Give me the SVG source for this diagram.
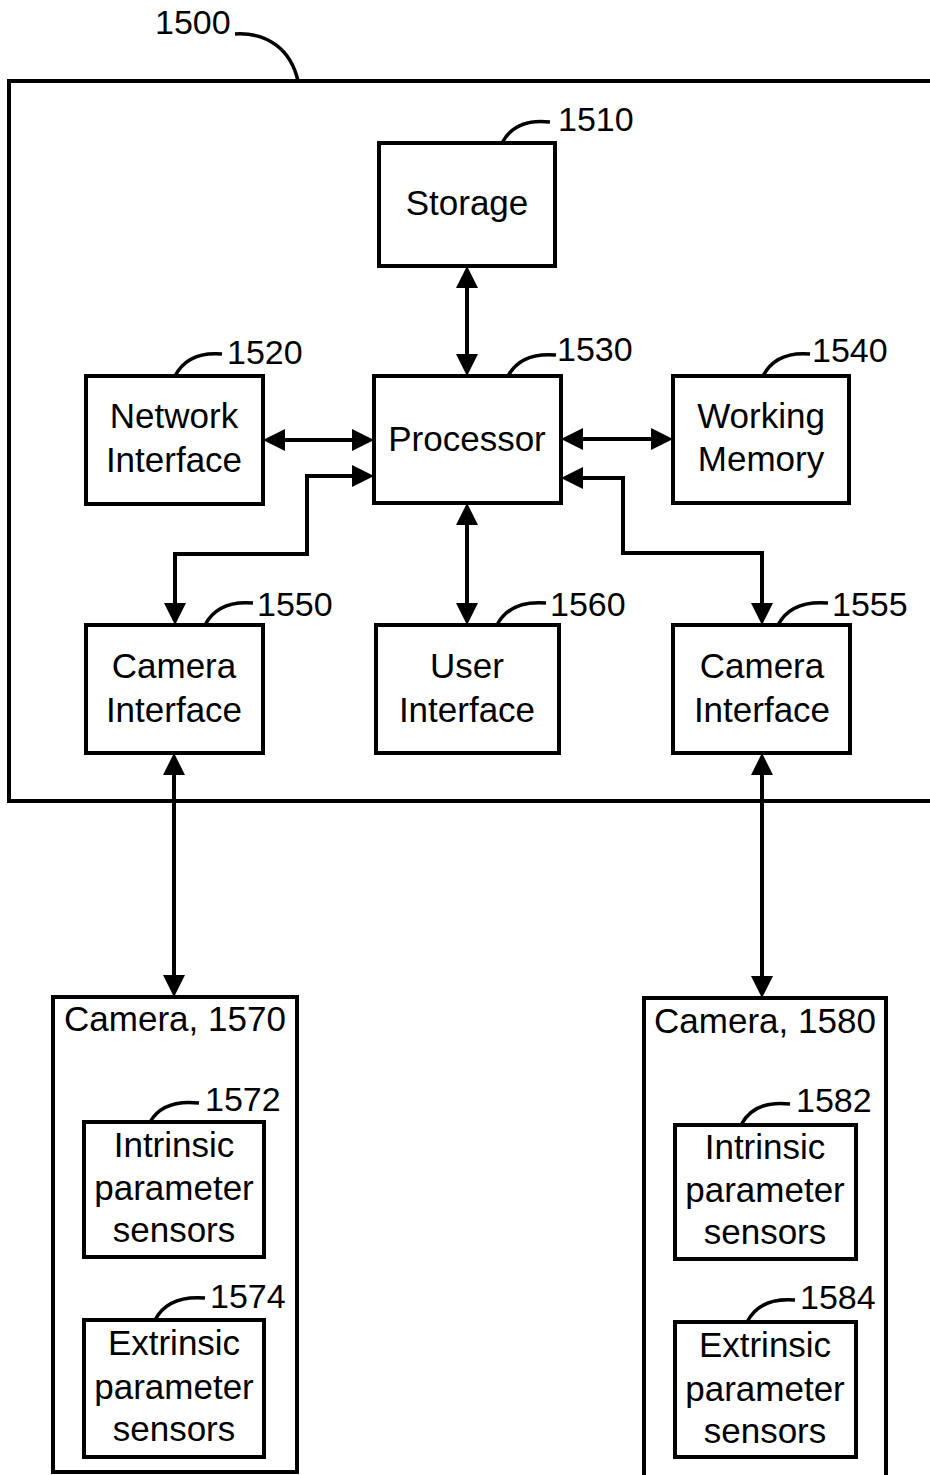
<svg xmlns="http://www.w3.org/2000/svg" width="930" height="1475" viewBox="0 0 930 1475">
<style>
.box{fill:#fff;stroke:#000;stroke-width:4}
.frame{fill:none;stroke:#000;stroke-width:4}
.lead{fill:none;stroke:#000;stroke-width:3.5}
.con{fill:none;stroke:#000;stroke-width:4}
text{font-family:"Liberation Sans",Arial,sans-serif;font-size:35px;fill:#000}
.c{text-anchor:middle}
.n{font-size:34px}
</style>
<defs>
<marker id="ah" viewBox="0 0 22 22" markerWidth="22" markerHeight="22" refX="18" refY="11" orient="auto-start-reverse" markerUnits="userSpaceOnUse">
<path d="M0,0 L22,11 L0,22 Z" fill="#000"/>
</marker>
</defs>
<rect fill="#fff" width="930" height="1475"/>

<g id="system-1500">
<rect class="frame" x="9" y="81" width="940" height="720"/>
<path class="lead" d="M235,34 C268,32 291,50 298,81"/>
<text class="n" x="155" y="34">1500</text>
</g>

<g id="storage-1510">
<rect class="box" x="379" y="143" width="176" height="123"/>
<text class="c" x="467" y="215">Storage</text>
<path class="lead" d="M502,143 Q515,118 550,122"/>
<text class="n" x="558" y="131">1510</text>
</g>

<g id="network-interface-1520">
<rect class="box" x="86" y="376" width="177" height="128"/>
<text class="c" x="174" y="428">Network</text>
<text class="c" x="174" y="472">Interface</text>
<path class="lead" d="M175,376 Q188,351 222,354"/>
<text class="n" x="227" y="364">1520</text>
</g>

<g id="processor-1530">
<rect class="box" x="374" y="376" width="187" height="127"/>
<text class="c" x="467" y="451">Processor</text>
<path class="lead" d="M508,376 Q521,352 556,355"/>
<text class="n" x="557" y="361">1530</text>
</g>

<g id="working-memory-1540">
<rect class="box" x="673" y="376" width="176" height="127"/>
<text class="c" x="761" y="428">Working</text>
<text class="c" x="761" y="471">Memory</text>
<path class="lead" d="M763,376 Q776,351 810,354"/>
<text class="n" x="812" y="362">1540</text>
</g>

<g id="camera-interface-1550">
<rect class="box" x="86" y="625" width="177" height="128"/>
<text class="c" x="174" y="678">Camera</text>
<text class="c" x="174" y="722">Interface</text>
<path class="lead" d="M205,625 Q218,600 253,603"/>
<text class="n" x="257" y="616">1550</text>
</g>

<g id="user-interface-1560">
<rect class="box" x="376" y="625" width="183" height="128"/>
<text class="c" x="467" y="678">User</text>
<text class="c" x="467" y="722">Interface</text>
<path class="lead" d="M497,625 Q510,600 546,603"/>
<text class="n" x="550" y="616">1560</text>
</g>

<g id="camera-interface-1555">
<rect class="box" x="673" y="625" width="177" height="128"/>
<text class="c" x="762" y="678">Camera</text>
<text class="c" x="762" y="722">Interface</text>
<path class="lead" d="M778,625 Q791,600 828,603"/>
<text class="n" x="832" y="616">1555</text>
</g>

<g id="camera-1570">
<rect class="box" x="53" y="997" width="244" height="475"/>
<text class="c" x="175" y="1031">Camera, 1570</text>
</g>

<g id="intrinsic-1572">
<rect class="box" x="84" y="1122" width="180" height="135"/>
<text class="c" x="174" y="1157">Intrinsic</text>
<text class="c" x="174" y="1200">parameter</text>
<text class="c" x="174" y="1242">sensors</text>
<path class="lead" d="M150,1122 Q163,1099 199,1103"/>
<text class="n" x="205" y="1111">1572</text>
</g>

<g id="extrinsic-1574">
<rect class="box" x="84" y="1320" width="180" height="137"/>
<text class="c" x="174" y="1355">Extrinsic</text>
<text class="c" x="174" y="1399">parameter</text>
<text class="c" x="174" y="1441">sensors</text>
<path class="lead" d="M155,1320 Q168,1295 205,1298"/>
<text class="n" x="210" y="1308">1574</text>
</g>

<g id="camera-1580">
<rect class="box" x="644" y="998" width="242" height="490"/>
<text class="c" x="765" y="1033">Camera, 1580</text>
</g>

<g id="intrinsic-1582">
<rect class="box" x="675" y="1125" width="181" height="134"/>
<text class="c" x="765" y="1159">Intrinsic</text>
<text class="c" x="765" y="1202">parameter</text>
<text class="c" x="765" y="1244">sensors</text>
<path class="lead" d="M741,1125 Q754,1100 790,1104"/>
<text class="n" x="796" y="1112">1582</text>
</g>

<g id="extrinsic-1584">
<rect class="box" x="675" y="1322" width="181" height="135"/>
<text class="c" x="765" y="1357">Extrinsic</text>
<text class="c" x="765" y="1401">parameter</text>
<text class="c" x="765" y="1443">sensors</text>
<path class="lead" d="M747,1322 Q760,1297 795,1300"/>
<text class="n" x="800" y="1309">1584</text>
</g>

<g id="connectors">
<path class="con" d="M467,270 L467,372" marker-start="url(#ah)" marker-end="url(#ah)"/>
<path class="con" d="M267,440 L370,440" marker-start="url(#ah)" marker-end="url(#ah)"/>
<path class="con" d="M565,439 L669,439" marker-start="url(#ah)" marker-end="url(#ah)"/>
<path class="con" d="M467,507 L467,621" marker-start="url(#ah)" marker-end="url(#ah)"/>
<path class="con" d="M370,476 L307,476 L307,554 L175,554 L175,621" marker-start="url(#ah)" marker-end="url(#ah)"/>
<path class="con" d="M565,478 L623,478 L623,553 L762,553 L762,621" marker-start="url(#ah)" marker-end="url(#ah)"/>
<path class="con" d="M174,757 L174,993" marker-start="url(#ah)" marker-end="url(#ah)"/>
<path class="con" d="M762,757 L762,994" marker-start="url(#ah)" marker-end="url(#ah)"/>
</g>
</svg>
